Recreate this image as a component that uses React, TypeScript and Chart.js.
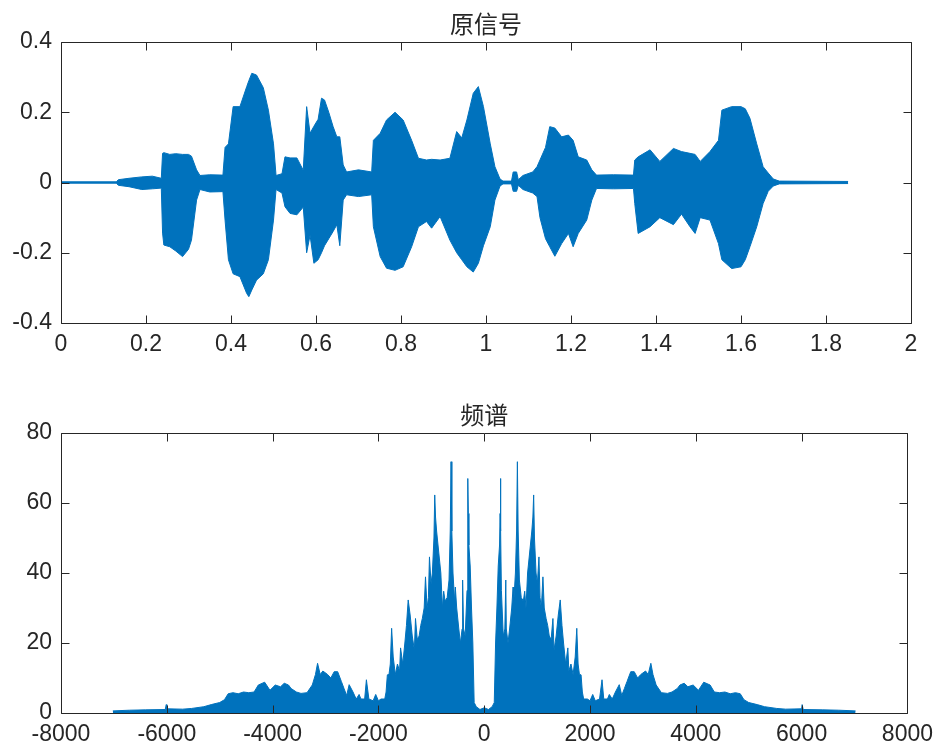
import React, { useEffect, useRef } from 'react';
import { Chart, registerables } from 'chart.js';

Chart.register(...registerables);

// ---------- 原信号 (time-domain waveform), envelope ----------
const T = [
  0.000, 0.130, 0.135, 0.160, 0.190, 0.215, 0.236, 0.239, 0.242, 0.256,
  0.270, 0.286, 0.300, 0.307, 0.319, 0.327, 0.350, 0.381, 0.386, 0.394,
  0.405, 0.421, 0.437, 0.442, 0.449, 0.460, 0.476, 0.488, 0.500, 0.506,
  0.520, 0.527, 0.539, 0.555, 0.570, 0.578, 0.586, 0.595, 0.605, 0.613,
  0.620, 0.630, 0.640, 0.649, 0.656, 0.664, 0.672, 0.700, 0.731, 0.735,
  0.751, 0.766, 0.786, 0.805, 0.825, 0.841, 0.860, 0.872, 0.892, 0.915,
  0.931, 0.943, 0.955, 0.970, 0.982, 0.994, 1.010, 1.021, 1.033, 1.040,
  1.060, 1.064, 1.072, 1.076, 1.087, 1.110, 1.120, 1.127, 1.140, 1.150,
  1.162, 1.178, 1.194, 1.205, 1.217, 1.237, 1.249, 1.260, 1.300, 1.347,
  1.350, 1.358, 1.386, 1.409, 1.441, 1.460, 1.480, 1.492, 1.504, 1.527,
  1.547, 1.555, 1.578, 1.600, 1.610, 1.621, 1.637, 1.652, 1.664, 1.676,
  1.690, 1.852,
];
const UP = [
  0.002, 0.002, 0.008, 0.012, 0.016, 0.018, 0.012, 0.083, 0.085, 0.080,
  0.082, 0.080, 0.080, 0.075, 0.036, 0.020, 0.022, 0.021, 0.100, 0.110,
  0.216, 0.216, 0.273, 0.290, 0.311, 0.306, 0.270, 0.206, 0.110, 0.020,
  0.025, 0.073, 0.070, 0.070, 0.035, 0.216, 0.140, 0.160, 0.180, 0.240,
  0.235, 0.200, 0.160, 0.130, 0.130, 0.050, 0.030, 0.036, 0.030, 0.120,
  0.140, 0.178, 0.200, 0.178, 0.120, 0.069, 0.064, 0.066, 0.064, 0.069,
  0.145, 0.127, 0.178, 0.254, 0.273, 0.216, 0.110, 0.045, 0.010, 0.004,
  0.004, 0.030, 0.030, 0.008, 0.020, 0.030, 0.045, 0.064, 0.100, 0.159,
  0.155, 0.130, 0.135, 0.120, 0.073, 0.064, 0.036, 0.021, 0.022, 0.021,
  0.064, 0.073, 0.093, 0.060, 0.097, 0.088, 0.083, 0.080, 0.060, 0.088,
  0.120, 0.206, 0.216, 0.216, 0.210, 0.183, 0.110, 0.045, 0.027, 0.010,
  0.004, 0.003,
];
const LO = [
  -0.002, -0.002, -0.008, -0.012, -0.020, -0.018, -0.016, -0.144, -0.178, -0.183,
  -0.195, -0.211, -0.190, -0.164, -0.050, -0.020, -0.027, -0.026, -0.107, -0.220,
  -0.260, -0.268, -0.316, -0.325, -0.306, -0.278, -0.260, -0.220, -0.107, -0.020,
  -0.030, -0.069, -0.088, -0.092, -0.070, -0.200, -0.150, -0.230, -0.220, -0.200,
  -0.180, -0.160, -0.140, -0.120, -0.180, -0.050, -0.035, -0.040, -0.035, -0.126,
  -0.211, -0.244, -0.250, -0.240, -0.183, -0.126, -0.111, -0.130, -0.097, -0.164,
  -0.200, -0.220, -0.240, -0.255, -0.230, -0.180, -0.126, -0.050, -0.010, -0.004,
  -0.004, -0.025, -0.025, -0.008, -0.020, -0.030, -0.040, -0.100, -0.160, -0.183,
  -0.210, -0.174, -0.145, -0.183, -0.145, -0.107, -0.050, -0.017, -0.018, -0.017,
  -0.060, -0.145, -0.126, -0.100, -0.120, -0.090, -0.126, -0.145, -0.100, -0.107,
  -0.174, -0.220, -0.245, -0.240, -0.220, -0.183, -0.126, -0.060, -0.025, -0.010,
  -0.004, -0.003,
];

// ---------- 频谱 (magnitude spectrum), positive-frequency half ----------
const F_POS = [
  0, 80, 150, 190, 215, 240, 265, 290, 300, 307,
  314, 325, 360, 390, 408, 418, 450, 480, 520, 546,
  560, 590, 612, 627, 642, 665, 700, 740, 766, 790,
  820, 860, 900, 920, 935, 950, 980, 1005, 1035, 1055,
  1080, 1110, 1135, 1170, 1200, 1230, 1265, 1299, 1320, 1360,
  1400, 1437, 1470, 1500, 1540, 1581, 1600, 1640, 1680, 1720,
  1750, 1775, 1800, 1831, 1855, 1880, 1950, 2000, 2051, 2100,
  2180, 2227, 2260, 2330, 2365, 2420, 2480, 2553, 2600, 2650,
  2700, 2770, 2836, 2900, 2960, 3050, 3100, 3150, 3190, 3250,
  3350, 3463, 3550, 3650, 3700, 3780, 3850, 3950, 4050, 4150,
  4270, 4350, 4450, 4550, 4650, 4750, 4840, 4910, 5000, 5160,
  5300, 5530, 5700, 6000, 6010, 6030, 6400, 6700, 7020,
];
const MAG_POS = [
  1.5, 1.0, 1.8, 3, 20, 30, 42, 48, 57, 67,
  52, 35, 22, 24, 38, 24, 20, 24, 30, 36,
  32, 40, 52, 71.8, 52, 38, 33, 32, 34.8, 30,
  40, 46, 52, 56, 62.3, 50, 40, 37, 44.6, 33,
  30, 38.9, 30, 27, 25, 22, 21, 27, 18, 22,
  28, 32.3, 25, 20, 14, 18.6, 12, 14, 11, 16,
  24.2, 14, 11, 10.9, 6, 4, 4, 3.5, 5.3, 3.5,
  4, 9.5, 4, 4, 5.3, 4, 6, 8.1, 5, 7,
  9, 11.8, 11.8, 10, 11, 12, 11, 14.2, 11, 8,
  5.8, 5.6, 6, 7, 8, 8.5, 7.5, 8, 6.5, 8.8,
  8, 6, 5.8, 6, 5.5, 5.8, 5.5, 3.8, 3, 2.4,
  1.8, 1.3, 1.1, 1.2, 2.4, 1.0, 0.9, 0.8, 0.6,
];

// ---------- ticks & titles ----------
const X1_TICKS = [0, 0.2, 0.4, 0.6, 0.8, 1, 1.2, 1.4, 1.6, 1.8, 2];
const X1_LABELS = ['0', '0.2', '0.4', '0.6', '0.8', '1', '1.2', '1.4', '1.6', '1.8', '2'];
const Y1_TICKS = [-0.4, -0.2, 0, 0.2, 0.4];
const Y1_LABELS = ['-0.4', '-0.2', '0', '0.2', '0.4'];
const X2_TICKS = [-8000, -6000, -4000, -2000, 0, 2000, 4000, 6000, 8000];
const X2_LABELS = ['-8000', '-6000', '-4000', '-2000', '0', '2000', '4000', '6000', '8000'];
const Y2_TICKS = [0, 20, 40, 60, 80];
const Y2_LABELS = ['0', '20', '40', '60', '80'];
const TITLE1 = '原信号';
const TITLE2 = '频谱';

const BLUE = '#0072BD';
const AXIS = '#262626';
const TICK_FONT = { family: '"Liberation Sans", Arial, sans-serif', size: 23 };
const TITLE_FONT = { family: '"Noto Sans CJK SC", sans-serif', size: 24, weight: 'normal' as const, lineHeight: 1.2 };

const boxPlugin = {
  id: 'matlabBox',
  afterDraw(chart: any) {
    const { ctx, chartArea: a, scales } = chart;
    const L = Math.floor(a.left) + 0.5;
    const R = Math.floor(a.right) + 0.5;
    const Tp = Math.floor(a.top) + 0.5;
    const B = Math.floor(a.bottom) + 0.5;
    const len = 8;
    ctx.save();
    ctx.strokeStyle = AXIS;
    ctx.lineWidth = 1;
    ctx.beginPath();
    ctx.rect(L, Tp, R - L, B - Tp);
    const xs = scales.x;
    xs.ticks.forEach((t: any) => {
      const px = Math.round(xs.getPixelForValue(t.value)) + 0.5;
      ctx.moveTo(px, B); ctx.lineTo(px, B - len);
      ctx.moveTo(px, Tp); ctx.lineTo(px, Tp + len);
    });
    const ys = scales.y;
    ys.ticks.forEach((t: any) => {
      const py = Math.round(ys.getPixelForValue(t.value)) + 0.5;
      ctx.moveTo(L, py); ctx.lineTo(L + len, py);
      ctx.moveTo(R, py); ctx.lineTo(R - len, py);
    });
    ctx.stroke();
    ctx.restore();
  },
};

function axisCfg(min: number, max: number, ticks: number[], labels: string[], fit: (s: any) => void, padding: number) {
  return {
    type: 'linear' as const,
    min,
    max,
    afterBuildTicks: (s: any) => { s.ticks = ticks.map((v) => ({ value: v })); },
    afterFit: fit,
    ticks: {
      autoSkip: false,
      maxRotation: 0,
      padding,
      color: AXIS,
      font: TICK_FONT,
      callback: (_v: any, i: number) => labels[i],
    },
    grid: { display: false, drawTicks: false },
    border: { display: false },
  };
}

function buildConfig(which: number): any {
  const common = {
    responsive: false,
    maintainAspectRatio: false,
    animation: false,
    events: [],
    layout: { padding: { left: 0, right: 30, top: 0, bottom: 0 } },
    elements: { point: { radius: 0 }, line: { tension: 0, borderWidth: 1 } },
  };
  if (which === 1) {
    const upper = T.map((t, i) => ({ x: t, y: UP[i] }));
    const lower = T.map((t, i) => ({ x: t, y: LO[i] }));
    return {
      type: 'line',
      data: {
        datasets: [
          { data: upper, borderColor: BLUE, backgroundColor: BLUE, fill: '+1' },
          { data: lower, borderColor: BLUE, backgroundColor: BLUE, fill: false },
        ],
      },
      options: {
        ...common,
        plugins: {
          legend: { display: false },
          tooltip: { enabled: false },
          title: {
            display: true, text: TITLE1, fullSize: false, color: AXIS, font: TITLE_FONT,
            padding: { top: 9.6, bottom: 3.6 },
          },
        },
        scales: {
          x: axisCfg(0, 2, X1_TICKS, X1_LABELS, (s: any) => { s.height = 57; }, 8),
          y: axisCfg(-0.4, 0.4, Y1_TICKS, Y1_LABELS, (s: any) => { s.width = 61; }, 9),
        },
      },
      plugins: [boxPlugin],
    };
  }
  // spectrum is symmetric: negative half mirrors the positive half read above
  const neg = F_POS.slice(1).map((f, i) => ({ x: -f, y: MAG_POS[i + 1] })).reverse();
  const pos = F_POS.map((f, i) => ({ x: f, y: MAG_POS[i] }));
  return {
    type: 'line',
    data: {
      datasets: [
        { data: [...neg, ...pos], borderColor: BLUE, backgroundColor: BLUE, fill: 'origin' },
      ],
    },
    options: {
      ...common,
      plugins: {
        legend: { display: false },
        tooltip: { enabled: false },
        title: {
          display: true, text: TITLE2, fullSize: false, color: AXIS, font: TITLE_FONT,
          padding: { top: 20.6, bottom: 3.6 },
        },
      },
      scales: {
        x: axisCfg(-8000, 8000, X2_TICKS, X2_LABELS, (s: any) => { s.height = 38; }, 8),
        y: axisCfg(0, 80, Y2_TICKS, Y2_LABELS, (s: any) => { s.width = 61; }, 9),
      },
    },
    plugins: [boxPlugin],
  };
}

function Panel({ which, top, height }: { which: number; top: number; height: number }) {
  const ref = useRef<HTMLCanvasElement | null>(null);
  useEffect(() => {
    if (!ref.current) return;
    const chart = new Chart(ref.current, buildConfig(which));
    return () => chart.destroy();
  }, [which]);
  return (
    <canvas
      ref={ref}
      width={941}
      height={height}
      style={{ position: 'absolute', left: 0, top, width: 941, height, display: 'block' }}
    />
  );
}

export default function App() {
  return (
    <div style={{ position: 'absolute', left: 0, top: 0, width: 941, height: 751, background: '#fff', overflow: 'hidden' }}>
      <Panel which={1} top={0} height={380} />
      <Panel which={2} top={380} height={371} />
    </div>
  );
}
